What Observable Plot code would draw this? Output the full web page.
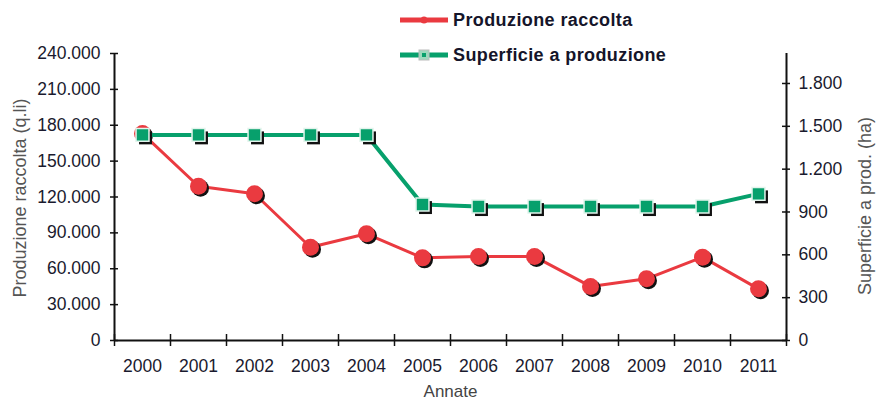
<!DOCTYPE html>
<html><head><meta charset="utf-8">
<script src="https://cdn.jsdelivr.net/npm/d3@7"></script>
<script src="https://cdn.jsdelivr.net/npm/@observablehq/plot@0.6"></script>
<style>
body{margin:0;background:#fff;}
#wrap{position:relative;width:876px;height:401px;overflow:hidden;}
.leg{position:absolute;left:400px;height:30px;display:flex;align-items:center;font:bold 18px "Liberation Sans",Arial,sans-serif;letter-spacing:0.4px;color:#15152a;}
.leg svg{margin-right:5px;}
</style></head><body><div id="wrap"></div>
<script>
const years = [2000,2001,2002,2003,2004,2005,2006,2007,2008,2009,2010,2011];
const produzione = [173000,129000,122700,78000,89200,69100,70200,70200,45200,51600,69700,43200];
const superficie = [1440,1440,1440,1440,1440,952,938,938,938,938,938,1027];
const leftTicks = [0,30000,60000,90000,120000,150000,180000,210000,240000];
const rightTicks = [0,300,600,900,1200,1500,1800];
const leftMax = 240000, rightMax = 2010;
const seriesNames = ["Produzione raccolta","Superficie a produzione"];
const titles = {left:"Produzione raccolta (q.li)", right:"Superficie a prod. (ha)", x:"Annate"};
const RED = "#ea3a40", GREEN = "#07a06c";

const k = leftMax / rightMax;
const fmt = d3.formatLocale({decimal:",", thousands:".", grouping:[3], currency:["","€"]}).format(",");
const data = years.map((y,i)=>({year:y, prod:produzione[i], sup:superficie[i]*k}));
const bounds = years.map(y=>y-0.5).concat([years[years.length-1]+0.5]);
const x0 = years[0]-0.5, x1 = years[years.length-1]+0.5;

const chart = Plot.plot({
  width: 876, height: 401,
  marginLeft: 114, marginRight: 90, marginTop: 53, marginBottom: 61,
  x: {type:"linear", domain:[x0, x1]},
  y: {type:"linear", domain:[0, leftMax]},
  style: {fontFamily:"'Liberation Sans', Arial, sans-serif", fontSize:"17.5px", color:"#1a1a2e", background:"#fff"},
  marks: [
    // axis lines
    Plot.ruleY([0], {stroke:"#111", strokeWidth:2}),
    Plot.ruleX([x0, x1], {y1:0, y2:leftMax, stroke:"#111", strokeWidth:2}),
    // crossing ticks
    Plot.ruleX(bounds, {y1:0, y2:0, insetTop:-6, insetBottom:-6, stroke:"#111", strokeWidth:1.5}),
    Plot.ruleY(leftTicks, {x1:x0, x2:x0, insetLeft:-4, insetRight:-4, stroke:"#111", strokeWidth:1.5}),
    Plot.ruleY(rightTicks.map(v=>v*k), {x1:x1, x2:x1, insetLeft:-4, insetRight:-4, stroke:"#111", strokeWidth:1.5}),
    // tick labels
    Plot.axisY(leftTicks, {anchor:"left", tickSize:0, tickPadding:14, tickFormat:fmt, label:null}),
    Plot.axisY(rightTicks.map(v=>v*k), {anchor:"right", tickSize:0, tickPadding:12, tickFormat:d=>fmt(Math.round(d/k)), label:null}),
    Plot.axisX(years, {anchor:"bottom", tickSize:0, tickPadding:19, tickFormat:d=>String(d), label:null}),
    // titles
    Plot.text([titles.left], {frameAnchor:"left", textAnchor:"middle", lineAnchor:"middle", dx:-94, dy:1, rotate:-90, fill:"#555", fontSize:18}),
    Plot.text([titles.right], {frameAnchor:"right", textAnchor:"middle", lineAnchor:"middle", dx:79, dy:9, rotate:-90, fill:"#555", fontSize:18}),
    Plot.text([titles.x], {frameAnchor:"bottom", textAnchor:"middle", lineAnchor:"middle", dy:51, fill:"#444", fontSize:17}),
    // produzione
    Plot.line(data, {x:"year", y:"prod", stroke:RED, strokeWidth:3}),
    Plot.dot(data, {x:"year", y:"prod", r:8.5, fill:"#111", dx:2, dy:2}),
    Plot.dot(data, {x:"year", y:"prod", r:8.5, fill:RED}),
    // superficie
    Plot.line(data, {x:"year", y:"sup", stroke:GREEN, strokeWidth:4}),
    Plot.dot(data, {x:"year", y:"sup", symbol:"square", r:7.3, fill:"#111", dx:3, dy:3}),
    Plot.dot(data, {x:"year", y:"sup", symbol:"square", r:7.3, fill:GREEN, stroke:"#e2f4ec", strokeWidth:1.5})
  ]
});
const wrap = document.getElementById("wrap");
wrap.appendChild(chart);

function legendRow(top, name, color, shape){
  const d = document.createElement("div");
  d.className = "leg"; d.style.top = top + "px";
  const marker = shape === "circle"
    ? `<circle cx="24" cy="8" r="3.5" fill="${color}"/>`
    : `<rect x="19" y="3" width="10" height="10" fill="#9cd8bd" stroke="#bbb" stroke-width="1"/><rect x="22" y="6" width="4" height="4" fill="${color}"/>`;
  d.innerHTML = `<svg width="48" height="16"><line x1="0" x2="48" y1="8" y2="8" stroke="${color}" stroke-width="5"/>${marker}</svg><span>${name}</span>`;
  wrap.appendChild(d);
}
legendRow(5, seriesNames[0], RED, "circle");
legendRow(40, seriesNames[1], GREEN, "square");
</script>
</body></html>
